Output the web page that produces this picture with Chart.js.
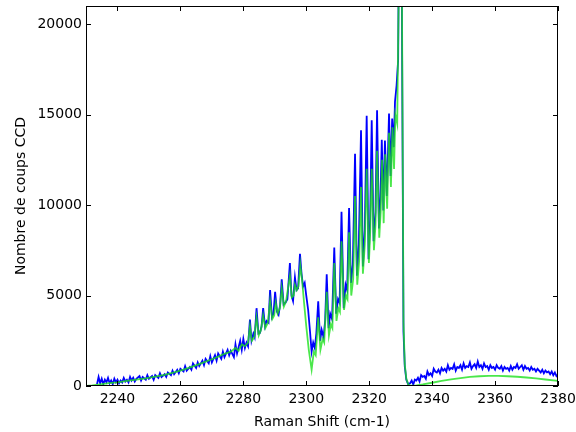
<!DOCTYPE html>
<html>
<head>
<meta charset="utf-8">
<script src="https://cdn.jsdelivr.net/npm/chart.js@4.4.1/dist/chart.umd.min.js"></script>
<style>
    body { margin: 0; background: #fff; }
</style>
</head>
<body>
<canvas id="ramanChart" width="576" height="432"></canvas>
<script>
// spectre Raman : mesure (bleu) et modele (vert)
var xTicks = [2240, 2260, 2280, 2300, 2320, 2340, 2360, 2380];
var yTicks = [0, 5000, 10000, 15000, 20000];

var mesure = [
    [2233.5,100],[2234,500],[2234.5,150],[2235,400],[2235.5,100],[2236,350],[2236.5,200],[2237,450],
    [2237.5,150],[2238,300],[2238.5,100],[2239,400],[2239.5,200],[2240,350],[2240.5,150],[2241,300],
    [2241.5,200],[2242,450],[2242.5,250],[2243,350],[2243.5,200],[2244,500],[2244.5,300],[2245,450],
    [2245.5,250],[2246,400],[2247,550],[2247.5,300],[2248,500],[2249,350],[2249.5,600],[2250,400],
    [2251,550],[2251.5,350],[2252,600],[2253,450],[2253.5,700],[2254,500],[2255,650],[2255.5,500],
    [2256,750],[2257,600],[2257.5,850],[2258,650],[2259,900],[2259.5,700],[2260,950],[2261,800],
    [2261.5,1100],[2262,850],[2263,1050],[2263.5,900],[2264,1250],[2265,1000],[2265.5,1300],[2266,1100],
    [2267,1400],[2267.5,1150],[2268,1500],[2269,1250],[2269.5,1650],[2270,1300],[2271,1700],[2271.5,1400],
    [2272,1800],[2273,1500],[2273.5,1900],[2274,1600],[2275,2000],[2275.5,1700],[2276,1950],[2277,1600],
    [2277.5,2300],[2278,1800],[2279,2500],[2279.5,2000],[2280,2600],[2280.5,2100],[2281,2400],[2281.5,2200],
    [2282.1,3670],[2282.6,2500],[2283.2,2900],[2283.6,2700],[2284.2,4300],[2284.8,2900],[2285.3,2940],[2285.8,3300],
    [2286.3,4300],[2286.9,3300],[2287.4,3600],[2288,3500],[2288.5,5300],[2289.1,3800],[2289.6,4000],[2290.1,5200],
    [2290.7,4100],[2291.2,3940],[2291.7,4500],[2292.2,5900],[2292.8,4500],[2293.4,4600],[2294,4800],[2294.8,6800],
    [2295.3,5000],[2295.8,4700],[2296.4,6000],[2296.9,5300],[2297.4,5400],[2298,7300],[2298.5,6200],[2299,5500],
    [2299.5,5700],[2300,5000],[2300.6,4200],[2301.2,3000],[2301.7,1900],[2302.2,2400],[2302.7,2100],[2303.2,2900],
    [2303.8,4680],[2304.4,2500],[2304.9,3100],[2305.5,2700],[2306,3600],[2306.5,6170],[2307.1,3200],[2307.6,4000],
    [2308.2,3700],[2308.9,7650],[2309.5,4000],[2310.1,4800],[2310.6,4600],[2311.2,9630],[2311.9,4300],[2312.5,5600],
    [2313,5300],[2313.6,9830],[2314.2,5700],[2314.8,6700],[2315.5,12830],[2316.1,6100],[2316.7,7800],[2317.4,14130],
    [2318,6600],[2318.6,8600],[2319.2,14930],[2319.8,7000],[2320.3,9200],[2320.8,14680],[2321.4,8000],[2322,9600],
    [2322.5,15240],[2323.1,8700],[2323.6,10500],[2324,13610],[2324.5,9700],[2325,13570],[2325.6,10500],[2326.3,15060],
    [2326.8,11600],[2327.3,14780],[2327.8,13200],[2328.2,15720],[2328.7,16600],[2329.2,18000],[2329.9,38000],[2330.9,3000],
    [2331.3,1100],[2331.8,350],[2332.4,100],[2333,150],[2333.5,300],[2334,80],[2334.5,350],[2335,300],
    [2335.5,450],[2336,250],[2336.5,600],[2337,500],[2337.5,550],[2338,400],[2338.5,800],[2339,600],
    [2339.5,700],[2340,550],[2340.5,950],[2341,800],[2341.5,750],[2342,900],[2342.5,700],[2343,1000],
    [2343.5,850],[2344,950],[2344.5,800],[2345,1150],[2345.5,900],[2346,1000],[2346.5,950],[2347,1200],
    [2347.5,850],[2348,1050],[2348.5,1000],[2349,1150],[2349.5,900],[2350,1250],[2350.5,1000],[2351,1100],
    [2351.5,1050],[2352,1300],[2352.5,950],[2353,1100],[2353.5,1200],[2354,1000],[2354.5,1350],[2355,1050],
    [2355.5,1150],[2356,950],[2356.5,1250],[2357,1050],[2357.5,1100],[2358,900],[2358.5,1150],[2359,1000],
    [2359.5,1050],[2360,900],[2360.5,1150],[2361,1000],[2361.5,950],[2362,1100],[2362.5,850],[2363,1050],
    [2363.5,950],[2364,1000],[2364.5,850],[2365,1100],[2365.5,900],[2366,1050],[2366.5,1000],[2367,1200],
    [2367.5,950],[2368,1050],[2368.5,1150],[2369,900],[2369.5,1100],[2370,950],[2370.5,1000],[2371,850],
    [2371.5,1050],[2372,900],[2372.5,950],[2373,800],[2373.5,950],[2374,850],[2374.5,750],[2375,900],
    [2375.5,700],[2376,850],[2376.5,750],[2377,800],[2377.5,650],[2378,800],[2378.5,600],[2379,750],
    [2379.5,550],[2380,650]
];

var modele = [
    [2230,0],[2232,30],[2235,100],[2238,170],[2240,200],[2243,280],[2246,350],[2249,420],
    [2252,520],[2255,620],[2258,750],[2261,900],[2264,1080],[2267,1280],[2270,1480],[2272,1620],
    [2274,1780],[2276,1900],[2277.5,2100],[2278.5,1950],[2279.5,2300],[2280.5,2200],[2281.5,2400],[2282.1,3300],
    [2282.7,2500],[2283.5,2700],[2284.2,3800],[2284.9,2800],[2285.6,3100],[2286.3,3900],[2287,3200],[2287.8,3500],
    [2288.5,4700],[2289.2,3700],[2289.8,3900],[2290.3,4600],[2290.9,4000],[2291.6,4300],[2292.2,5400],[2292.9,4400],
    [2293.6,4700],[2294.8,6100],[2295.4,4900],[2296,5000],[2296.4,5600],[2297,5300],[2297.5,5500],[2298.1,6700],
    [2298.7,5800],[2299.3,4600],[2300,3300],[2300.8,2000],[2301.7,900],[2302.4,1900],[2303,1700],[2303.8,3800],
    [2304.5,2000],[2305.2,2600],[2305.7,2400],[2306.5,5200],[2307.2,2800],[2307.8,3400],[2308.3,3200],[2308.9,6800],
    [2309.6,3600],[2310.2,4300],[2310.7,4100],[2311.2,8000],[2312,4200],[2312.6,5000],[2313.1,4800],[2313.6,8500],
    [2314.3,5000],[2314.9,5900],[2315.5,10500],[2316.2,5600],[2316.8,6900],[2317.4,11000],[2318,6200],[2318.6,7800],
    [2319.2,12000],[2319.9,6800],[2320.3,8400],[2320.8,12000],[2321.5,7500],[2322,8900],[2322.5,13000],[2323.2,8200],
    [2323.7,9800],[2324.1,12500],[2324.6,9000],[2325.1,12800],[2325.7,9800],[2326.3,14000],[2326.9,11000],[2327.4,14300],
    [2327.9,12000],[2328.3,15000],[2328.9,14500],[2329.4,22000],[2329.9,40000],[2330.9,3500],[2331.3,1200],[2331.8,400],
    [2332.4,100],[2333,20],[2335,40],[2337,90],[2340,180],[2343,280],[2346,370],[2349,440],
    [2352,500],[2355,540],[2358,560],[2361,560],[2364,540],[2367,510],[2370,470],[2373,420],
    [2376,360],[2380,280]
];

function toPoints(pairs) {
    return pairs.map(function(p) { return {x: p[0], y: p[1]}; });
}

// pas de marge auto autour des echelles, on fixe la zone du graphe a la main
function noScalePadding(scale) {
    scale.paddingTop = 0;
    scale.paddingBottom = 0;
    scale.paddingLeft = 0;
    scale.paddingRight = 0;
}

// cadre noir + graduations vers l'interieur (style matplotlib)
var cadrePlugin = {
    id: 'cadre',
    afterDraw: function(chart) {
        var ctx = chart.ctx;
        var a = chart.chartArea;
        var xs = chart.scales.x;
        var ys = chart.scales.y;
        var len = 5;
        ctx.save();
        ctx.strokeStyle = '#000';
        ctx.lineWidth = 1;
        ctx.beginPath();
        xTicks.forEach(function(v) {
            var px = Math.round(xs.getPixelForValue(v)) + 0.5;
            ctx.moveTo(px, a.bottom); ctx.lineTo(px, a.bottom - len);
            ctx.moveTo(px, a.top); ctx.lineTo(px, a.top + len);
        });
        yTicks.forEach(function(v) {
            var py = Math.round(ys.getPixelForValue(v)) + 0.5;
            ctx.moveTo(a.left, py); ctx.lineTo(a.left + len, py);
            ctx.moveTo(a.right, py); ctx.lineTo(a.right - len, py);
        });
        ctx.stroke();
        ctx.strokeRect(a.left + 0.5, a.top + 0.5, a.right - a.left - 1, a.bottom - a.top - 1);
        ctx.restore();
    }
};

var ctx = document.getElementById('ramanChart').getContext('2d');
var ramanChart = new Chart(ctx, {
    type: 'line',
    data: {
        datasets: [
            {
                label: 'modele',
                data: toPoints(modele),
                borderColor: 'rgba(30, 225, 30, 0.8)',
                borderWidth: 1.8,
                pointRadius: 0,
                tension: 0,
                fill: false
            },
            {
                label: 'mesure',
                data: toPoints(mesure),
                borderColor: 'rgb(0, 0, 255)',
                borderWidth: 1.8,
                pointRadius: 0,
                tension: 0,
                fill: false
            }
        ]
    },
    options: {
        responsive: false,
        animation: false,
        layout: {
            autoPadding: false,
            padding: {top: 6, right: 18, left: 0, bottom: 0}
        },
        plugins: {
            legend: {display: false},
            tooltip: {enabled: false}
        },
        scales: {
            x: {
                type: 'linear',
                min: 2230,
                max: 2380,
                grid: {display: false, drawTicks: false},
                border: {display: false},
                afterBuildTicks: function(scale) {
                    scale.ticks = xTicks.map(function(v) { return {value: v}; });
                },
                afterFit: function(scale) {
                    scale.height = 46;
                    noScalePadding(scale);
                },
                ticks: {
                    padding: 5,
                    color: '#000',
                    maxRotation: 0,
                    font: {family: 'DejaVu Sans', size: 14},
                    callback: function(v) { return v; }
                },
                title: {
                    display: true,
                    text: 'Raman Shift (cm-1)',
                    color: '#000',
                    padding: {top: 0, bottom: 1},
                    font: {family: 'DejaVu Sans', size: 14}
                }
            },
            y: {
                type: 'linear',
                min: 0,
                max: 21000,
                grid: {display: false, drawTicks: false},
                border: {display: false},
                afterBuildTicks: function(scale) {
                    scale.ticks = yTicks.map(function(v) { return {value: v}; });
                },
                afterFit: function(scale) {
                    scale.width = 86;
                    noScalePadding(scale);
                },
                ticks: {
                    padding: 4,
                    color: '#000',
                    font: {family: 'DejaVu Sans', size: 14},
                    callback: function(v) { return v; }
                },
                title: {
                    display: true,
                    text: 'Nombre de coups CCD',
                    color: '#000',
                    padding: {top: 13, bottom: 0},
                    font: {family: 'DejaVu Sans', size: 14}
                }
            }
        }
    },
    plugins: [cadrePlugin]
});
</script>
</body>
</html>
